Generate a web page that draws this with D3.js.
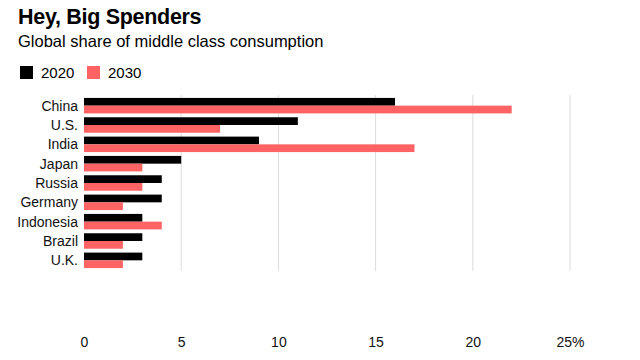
<!DOCTYPE html>
<html>
<head>
<meta charset="utf-8">
<script src="https://cdn.jsdelivr.net/npm/d3@7"></script>
<style>
  body { margin: 0; background: #fff; }
  svg { font-family: "Liberation Sans", Arial, Helvetica, sans-serif; }
</style>
</head>
<body>
<div id="chart"></div>
<script>
// data
const countries = ["China", "U.S.", "India", "Japan", "Russia", "Germany", "Indonesia", "Brazil", "U.K."];
const share2020 = [16, 11, 9, 5, 4, 4, 3, 3, 3];
const share2030 = [22, 7, 17, 3, 3, 2, 4, 2, 2];
const years = ["2020", "2030"];
const tickValues = [0, 5, 10, 15, 20, 25];

const width = 640, height = 360;
const colors = { "2020": "#000000", "2030": "#ff6363" };

const svg = d3.select("#chart")
  .append("svg")
    .attr("width", width)
    .attr("height", height);

// title + subtitle
svg.append("text")
  .attr("x", 18).attr("y", 24)
  .attr("font-size", 21.5).attr("font-weight", "bold")
  .attr("letter-spacing", -0.3)
  .text("Hey, Big Spenders");

svg.append("text")
  .attr("x", 18).attr("y", 47)
  .attr("font-size", 16.5)
  .text("Global share of middle class consumption");

// legend
const legend = svg.append("g");
years.forEach((yr, i) => {
  const lx = 20 + i * 67;
  legend.append("rect")
    .attr("x", lx).attr("y", 66)
    .attr("width", 13).attr("height", 13)
    .attr("fill", colors[yr]);
  legend.append("text")
    .attr("x", lx + 21).attr("y", 78)
    .attr("font-size", 15)
    .text(yr);
});

// scales
const x = d3.scaleLinear()
  .domain([0, 25])
  .range([84, 570]);

const y = d3.scaleBand()
  .domain(countries)
  .range([96, 270])
  .paddingInner(0.2)
  .paddingOuter(0.1);

const ySub = d3.scaleBand()
  .domain(years)
  .range([0, y.bandwidth()]);

// gridlines
svg.append("g")
  .selectAll("line")
  .data(tickValues.slice(1))
  .join("line")
    .attr("x1", d => x(d)).attr("x2", d => x(d))
    .attr("y1", 95).attr("y2", 271)
    .attr("stroke", "#dcdcdc")
    .attr("stroke-width", 1);

// bars
const rows = countries.map((c, i) => ({ country: c, "2020": share2020[i], "2030": share2030[i] }));

svg.append("g")
  .selectAll("g")
  .data(rows)
  .join("g")
    .attr("transform", d => `translate(0, ${y(d.country)})`)
  .selectAll("rect")
  .data(d => years.map(k => ({ key: k, value: d[k] })))
  .join("rect")
    .attr("x", x(0))
    .attr("y", d => ySub(d.key))
    .attr("width", d => x(d.value) - x(0))
    .attr("height", ySub.bandwidth())
    .attr("fill", d => colors[d.key]);

// country labels
svg.append("g")
  .selectAll("text")
  .data(countries)
  .join("text")
    .attr("x", 78)
    .attr("y", d => y(d) + y.bandwidth() / 2)
    .attr("dy", "0.36em")
    .attr("text-anchor", "end")
    .attr("font-size", 14)
    .attr("fill", "#111")
    .text(d => d);

// x axis labels
const xAxis = svg.append("g")
  .attr("transform", "translate(0, 337)")
  .call(d3.axisBottom(x)
    .tickValues(tickValues)
    .tickSize(0)
    .tickPadding(0)
    .tickFormat(d => d === 25 ? "25%" : d));

xAxis.select(".domain").remove();
xAxis.selectAll("text")
  .attr("font-family", "Liberation Sans, Arial, sans-serif")
  .attr("font-size", 14)
  .attr("fill", "#111");
</script>
</body>
</html>
